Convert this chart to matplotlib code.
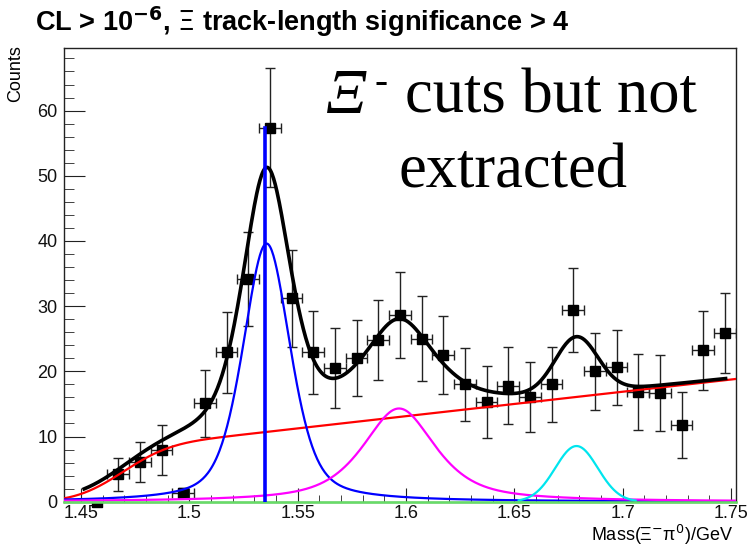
import math
import numpy as np
import matplotlib
matplotlib.use("Agg")
import matplotlib.pyplot as plt
from matplotlib.ticker import MultipleLocator

plt.rcParams['font.family'] = ['Liberation Sans', 'DejaVu Sans']

# Histogram bins (centres, GeV) and contents
mass = [1.4572, 1.4672, 1.4772, 1.4872, 1.4972, 1.5072, 1.5172, 1.5272,
        1.5372, 1.5472, 1.5572, 1.5672, 1.5772, 1.5872, 1.5972, 1.6072,
        1.6172, 1.6272, 1.6372, 1.6472, 1.6572, 1.6672, 1.6772, 1.6872,
        1.6972, 1.7072, 1.7172, 1.7272, 1.7372, 1.7472]
counts = [0.0, 4.2, 6.1, 7.9, 1.4, 15.1, 22.9, 34.1, 57.4, 31.2, 22.9,
          20.5, 22.0, 24.8, 28.7, 25.0, 22.5, 18.0, 15.3, 17.8, 16.1,
          18.0, 29.4, 20.0, 20.6, 16.8, 16.7, 11.8, 23.2, 25.9]
errors = [0.0, 2.5, 3.1, 3.85, 0.7, 5.1, 6.2, 7.2, 9.2, 7.45, 6.4,
          6.15, 5.85, 6.15, 6.6, 6.5, 6.05, 5.55, 5.5, 5.95, 5.4,
          5.75, 6.4, 5.9, 5.7, 5.8, 5.85, 5.05, 6.05, 6.1]
bin_half = 0.005

# fit components (parameters)
peak1 = dict(amp=39.6, mu=1.5357, hw=0.013, eta=0.45)    # blue
peak2 = dict(amp=14.3, mu=1.5968, hw=0.020, eta=0.70)    # magenta
peak3 = dict(amp=8.54, mu=1.6787, sigma=0.0098)          # cyan
bkg = dict(a=10.7, slope=37.5, x_ref=1.5355, x_on=1.467, w_on=0.024)  # red
fit_range = (1.4515, 1.7475)
cyan_range = (1.652, 1.706)
xi_line = dict(x=1.5349, top=57.4)

x_lo, x_hi = 1.4422, 1.7523
y_hi = 69.6


def pvoigt(x, amp, mu, hw, eta):
    lor = 1.0 / (1.0 + ((x - mu) / hw) ** 2)
    sig = hw / np.sqrt(2 * np.log(2))
    gau = np.exp(-0.5 * ((x - mu) / sig) ** 2)
    return amp * (eta * lor + (1 - eta) * gau)


def gaus(x, amp, mu, sigma):
    return amp * np.exp(-0.5 * ((x - mu) / sigma) ** 2)


erf = np.vectorize(math.erf)


def background(x, a, slope, x_ref, x_on, w_on):
    return (a + slope * (x - x_ref)) * 0.5 * (1 + erf((x - x_on) / w_on))


xx = np.linspace(x_lo, x_hi, 800)
xf = np.linspace(fit_range[0], fit_range[1], 800)
xc = np.linspace(cyan_range[0], cyan_range[1], 200)

total = (background(xf, **bkg) + pvoigt(xf, **peak1)
         + pvoigt(xf, **peak2) + gaus(xf, **peak3))

fig = plt.figure(figsize=(7.49, 5.46), dpi=100)
ax = fig.add_axes([64 / 749, 1 - 501.7 / 546, 672 / 749, 453.7 / 546])

# data points
ax.errorbar(mass[1:], counts[1:], yerr=errors[1:], xerr=bin_half,
            fmt='s', color='black', ms=7.2, ecolor='#222222',
            elinewidth=1, capsize=3.5, capthick=1, zorder=2)
half_sq = [(-1, -1), (1, -1), (1, 0), (-1, 0), (-1, -1)]
ax.plot(mass[:1], counts[:1], marker=half_sq, ms=7.2, color='black',
        ls='none', clip_on=False, zorder=2)

# fit components
ax.plot(xx, background(xx, **bkg), color='#ff0000', lw=1.6, zorder=3)
ax.plot(xx, pvoigt(xx, **peak1), color='#0000ff', lw=1.6, zorder=3)
ax.plot(xx, pvoigt(xx, **peak2), color='#ff00ff', lw=1.6, zorder=3)
ax.plot(xc, gaus(xc, **peak3), color='#00e5ee', lw=1.6, zorder=3)
ax.plot(xf, total, color='black', lw=2.6, zorder=4)
ax.plot([x_lo, x_hi], [0, 0], color='#66dd66', lw=1.8, clip_on=False, zorder=5)
ax.plot([xi_line['x'], xi_line['x']], [0, xi_line['top']],
        color='#0000ff', lw=2.6, zorder=6)

ax.set_xlim(x_lo, x_hi)
ax.set_ylim(0, y_hi)
ax.xaxis.set_minor_locator(MultipleLocator(0.01))
ax.yaxis.set_major_locator(MultipleLocator(10))
ax.yaxis.set_minor_locator(MultipleLocator(2))
ax.set_xticks([1.45, 1.5, 1.55, 1.6, 1.65, 1.7, 1.75])
ax.set_xticklabels(['1.45', '1.5', '1.55', '1.6', '1.65', '1.7', '1.75'])

for s in ax.spines.values():
    s.set_color('#222222')
    s.set_linewidth(1)
ax.tick_params(axis='both', which='both', direction='in', color='#222222',
               labelsize=13, labelcolor='#111111')
ax.tick_params(axis='y', which='major', length=15, pad=4.5)
ax.tick_params(axis='y', which='minor', length=7.5)
ax.tick_params(axis='x', which='major', length=10, pad=2.5)
ax.tick_params(axis='x', which='minor', length=5)

# texts
fig.text(35 / 749, 1 - 31 / 546,
         r'CL > 10$^{\mathbf{-6}}$, $\Xi$ track-length significance > 4',
         fontsize=19.5, fontweight='bold', ha='left', va='baseline',
         math_fontfamily='dejavusans')
fig.text(16 / 749, 1 - 45 / 546, 'Counts', rotation=90, fontsize=13,
         ha='center', va='top')
fig.text(733 / 749, 1 - 541 / 546, r'Mass(Ξ$^{-}$π$^{0}$)/GeV', fontsize=13,
         ha='right', va='baseline', math_fontfamily='dejavusans')

serif = 'Liberation Serif'
fig.text(326 / 749, 1 - 113 / 546, 'Ξ', fontsize=46, family=serif,
         style='italic', ha='left', va='baseline')
fig.text(375 / 749, 1 - 93 / 546, '-', fontsize=28, family=serif,
         ha='left', va='baseline')
fig.text(697 / 749, 1 - 113 / 546, 'cuts but not', fontsize=45, family=serif,
         ha='right', va='baseline')
fig.text(513 / 749, 1 - 188 / 546, 'extracted', fontsize=45, family=serif,
         ha='center', va='baseline')

fig.savefig('out.png', dpi=100)
